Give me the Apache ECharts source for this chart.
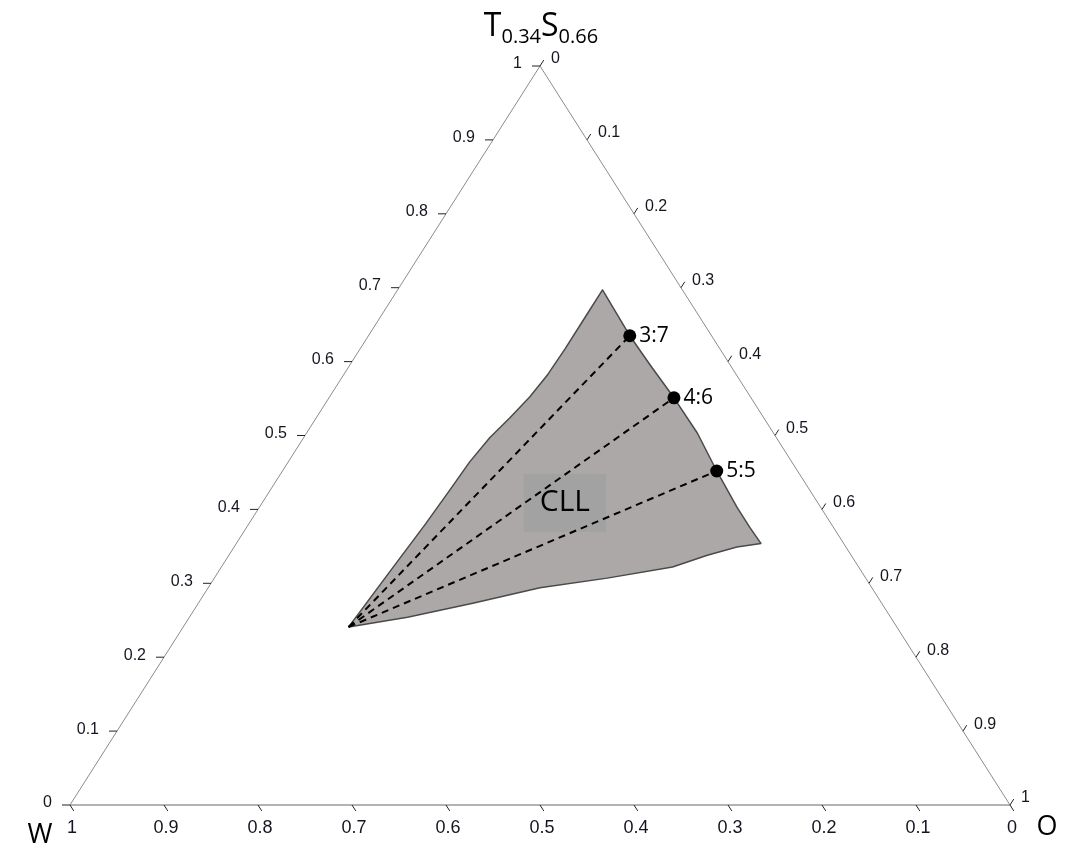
<!DOCTYPE html>
<html>
<head>
<meta charset="utf-8">
<title>W – T0.34S0.66 – O ternary diagram</title>
<script src="https://cdn.jsdelivr.net/npm/echarts@6/dist/echarts.min.js"></script>
<style>
  html, body { margin: 0; padding: 0; background: #ffffff; }
  #chart { width: 1067px; height: 847px; }
</style>
</head>
<body>
<div id="chart"></div>
<script>
// Compositions are mass fractions written as [W, T, O],
// where T stands for the T0.34S0.66 pseudo-component.

const tickValues = [0, 0.1, 0.2, 0.3, 0.4, 0.5, 0.6, 0.7, 0.8, 0.9, 1];
const tickLabels = ['0', '0.1', '0.2', '0.3', '0.4', '0.5', '0.6', '0.7', '0.8', '0.9', '1'];

// Plait point where the tie lines converge
const plaitPoint = [0.583, 0.241, 0.176];

// W-rich branch of the two-phase boundary, from the plait point to the top
const wRichBranch = [
  [0.583, 0.241, 0.176],
  [0.531, 0.288, 0.180],
  [0.482, 0.334, 0.184],
  [0.433, 0.379, 0.188],
  [0.383, 0.426, 0.191],
  [0.343, 0.464, 0.193],
  [0.305, 0.497, 0.198],
  [0.270, 0.524, 0.206],
  [0.235, 0.552, 0.213],
  [0.192, 0.583, 0.217],
  [0.164, 0.618, 0.218],
  [0.123, 0.659, 0.218],
  [0.085, 0.697, 0.218]
];

// W-poor branch, from the top down to the lower right corner
const wPoorBranch = [
  [0.087, 0.635, 0.278],
  [0.085, 0.593, 0.322],
  [0.082, 0.551, 0.367],
  [0.081, 0.503, 0.416],
  [0.086, 0.452, 0.462],
  [0.089, 0.403, 0.508],
  [0.089, 0.376, 0.535],
  [0.088, 0.354, 0.558]
];

// Lower boundary, from the lower right corner back towards the plait point
const lowerBranch = [
  [0.116, 0.349, 0.535],
  [0.153, 0.338, 0.509],
  [0.198, 0.322, 0.480],
  [0.275, 0.307, 0.418],
  [0.353, 0.294, 0.353],
  [0.435, 0.273, 0.292],
  [0.514, 0.254, 0.232]
];

// Tie-line end points on the W-poor branch
const tieEnds = [
  [0.087, 0.635, 0.278],
  [0.082, 0.551, 0.367],
  [0.086, 0.452, 0.462]
];
const tieNames = ['3:7', '4:6', '5:5'];

const regionName = 'CLL';
const regionNameAt = [0.269, 0.409, 0.322];

// Ternary composition -> cartesian (x, y) in the unit triangle
function toXY(c) {
  const T = c[1], O = c[2];
  return [O + T / 2, T];
}

const outline = wRichBranch.concat(wPoorBranch, lowerBranch);

const TICK_FONT = 'Liberation Sans, Arial, sans-serif';
const TEXT_FONT = 'Open Sans, Noto Sans, sans-serif';

function unit(a, b) {
  const dx = b[0] - a[0], dy = b[1] - a[1];
  const len = Math.hypot(dx, dy);
  return [dx / len, dy / len];
}

// One custom series per triangle side: tick marks and their labels
function sideSeries(side) {
  return {
    type: 'custom',
    silent: true,
    z: 5,
    data: tickValues.map(v => [v, 0]),
    renderItem(params, api) {
      const v = tickValues[params.dataIndex];
      const label = tickLabels[params.dataIndex];
      const top = api.coord([0.5, 1]);
      const bl = api.coord([0, 0]);
      const br = api.coord([1, 0]);
      let p, end, tx, ty, align;
      const tickStyle = { stroke: '#222', lineWidth: 1 };
      const fontSize = side === 'bottom' ? 18 : 16;
      if (side === 'left') {            // T fraction
        p = api.coord([v / 2, v]);
        end = [p[0] - 8, p[1]];
        tx = p[0] - 18; ty = p[1] - 2; align = 'right';
      } else if (side === 'right') {    // O fraction
        p = api.coord([(1 + v) / 2, 1 - v]);
        const d = unit(bl, top);
        end = [p[0] + d[0] * 7, p[1] + d[1] * 7];
        tx = p[0] + 11; ty = p[1] - 7; align = 'left';
      } else {                          // W fraction
        p = api.coord([1 - v, 0]);
        const d = unit(top, br);
        end = [p[0] + d[0] * 7, p[1] + d[1] * 7];
        tx = p[0] + 2; ty = p[1] + 23; align = 'center';
      }
      return {
        type: 'group',
        children: [
          { type: 'line', shape: { x1: p[0], y1: p[1], x2: end[0], y2: end[1] }, style: tickStyle },
          {
            type: 'text',
            style: {
              x: tx, y: ty, text: label, align: align, verticalAlign: 'middle',
              fill: '#151520', font: fontSize + 'px ' + TICK_FONT
            }
          }
        ]
      };
    }
  };
}

const series = [
  // Triangle frame
  {
    type: 'custom',
    silent: true,
    z: 1,
    data: [[0, 0]],
    renderItem(params, api) {
      const top = api.coord([0.5, 1]);
      const bl = api.coord([0, 0]);
      const br = api.coord([1, 0]);
      return {
        type: 'group',
        children: [
          { type: 'line', shape: { x1: bl[0], y1: bl[1], x2: br[0], y2: br[1] }, style: { stroke: '#9a9a9a', lineWidth: 1.6 } },
          { type: 'line', shape: { x1: bl[0], y1: bl[1], x2: top[0], y2: top[1] }, style: { stroke: '#8c8c8c', lineWidth: 1 } },
          { type: 'line', shape: { x1: br[0], y1: br[1], x2: top[0], y2: top[1] }, style: { stroke: '#8c8c8c', lineWidth: 1 } }
        ]
      };
    }
  },
  // Two-phase region
  {
    type: 'custom',
    silent: true,
    z: 2,
    data: [[0, 0]],
    renderItem(params, api) {
      const pts = outline.map(c => api.coord(toXY(c)));
      return {
        type: 'polygon',
        shape: { points: pts },
        style: { fill: '#aca8a7', stroke: '#4a4a4a', lineWidth: 1.5, lineJoin: 'round' }
      };
    }
  },
  // Region name
  {
    type: 'scatter',
    silent: true,
    z: 3,
    symbolSize: 1,
    itemStyle: { color: 'rgba(0,0,0,0)', opacity: 1 },
    data: [{ value: toXY(regionNameAt), name: regionName }],
    label: {
      show: true,
      position: 'inside',
      formatter: '{b}',
      fontFamily: TEXT_FONT,
      fontSize: 30,
      lineHeight: 40,
      color: '#000',
      opacity: 1,
      textBorderWidth: 0,
      backgroundColor: '#a2a2a2',
      padding: [9, 16, 9, 16]
    }
  },
  sideSeries('left'),
  sideSeries('right'),
  sideSeries('bottom')
];

// Dashed tie lines from the plait point
tieEnds.forEach(end => {
  series.push({
    type: 'line',
    silent: true,
    z: 4,
    symbol: 'none',
    data: [toXY(plaitPoint), toXY(end)],
    lineStyle: { color: '#000', width: 2, type: [7, 5] }
  });
});

// Tie-line end points
series.push({
  type: 'scatter',
  silent: true,
  z: 6,
  symbol: 'circle',
  symbolSize: 13,
  itemStyle: { color: '#000', opacity: 1 },
  data: tieEnds.map((c, i) => ({ value: toXY(c), name: tieNames[i] })),
  label: {
    show: true,
    position: 'right',
    distance: 3,
    formatter: '{b}',
    fontFamily: TEXT_FONT,
    fontSize: 21,
    color: '#000',
    opacity: 1
  }
});

const chart = echarts.init(document.getElementById('chart'), null, { renderer: 'canvas' });
chart.setOption({
  animation: false,
  backgroundColor: '#ffffff',
  grid: { left: 70, right: 57, top: 66, bottom: 42, containLabel: false },
  xAxis: { type: 'value', min: 0, max: 1, show: false },
  yAxis: { type: 'value', min: 0, max: 1, show: false },
  graphic: [
    {
      type: 'text',
      x: 541, y: 27,
      style: {
        text: '{m|T}{s|0.34}{m|S}{s|0.66}',
        align: 'center',
        verticalAlign: 'middle',
        rich: {
          m: { fontFamily: TEXT_FONT, fontSize: 32, lineHeight: 40, verticalAlign: 'middle', fill: '#000', color: '#000' },
          s: { fontFamily: TEXT_FONT, fontSize: 20, lineHeight: 20, verticalAlign: 'bottom', fill: '#000', color: '#000' }
        }
      }
    },
    {
      type: 'text', x: 40, y: 835,
      style: { text: 'W', align: 'center', verticalAlign: 'middle', font: '27px ' + TEXT_FONT, fill: '#000' }
    },
    {
      type: 'text', x: 1047, y: 827,
      style: { text: 'O', align: 'center', verticalAlign: 'middle', font: '27px ' + TEXT_FONT, fill: '#000' }
    }
  ],
  series: series
});
</script>
</body>
</html>
